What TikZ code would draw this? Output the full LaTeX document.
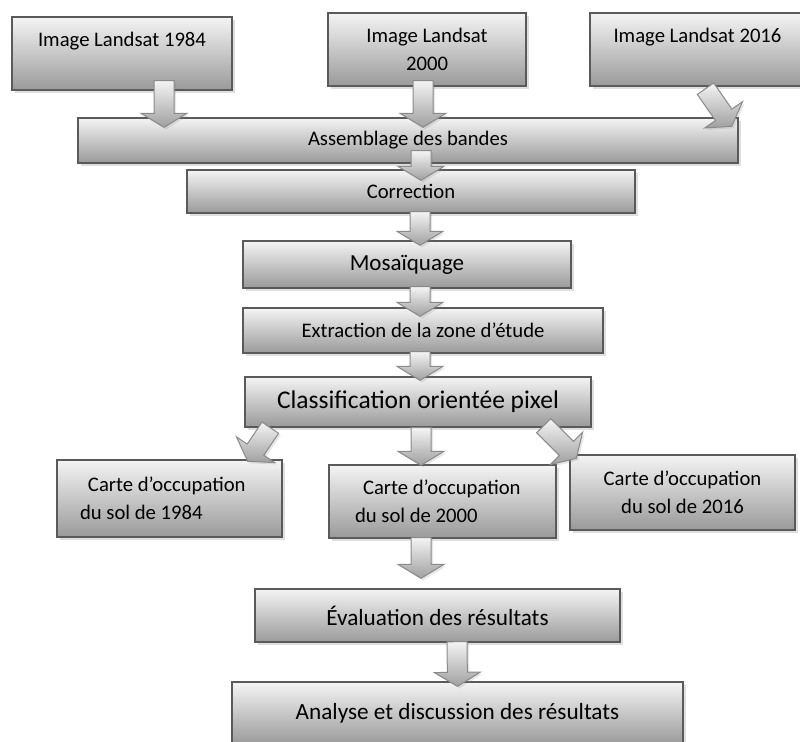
\documentclass[tikz,border=0pt]{standalone}
\usepackage{fontspec}
\setmainfont{Carlito}
\usetikzlibrary{calc,shadows}

\definecolor{boxtop}{HTML}{F4F4F4}
\definecolor{boxbot}{HTML}{9A9A9A}
\definecolor{boxline}{HTML}{5A5A5A}
\definecolor{arrtop}{HTML}{F4F4F4}
\definecolor{arrbot}{HTML}{A0A0A0}
\definecolor{arrline}{HTML}{8A8A8A}

\tikzset{
  stepbox/.style={draw=boxline, line width=0.7pt, top color=boxtop, bottom color=boxbot,
    inner sep=0pt, align=center, font=\fontsize{10.35}{14}\selectfont,
    drop shadow={shadow xshift=1.6pt, shadow yshift=-1.6pt, opacity=0.25}},
  bigarrow/.style={draw=arrline, line width=0.5pt, top color=arrtop, bottom color=arrbot,
    drop shadow={shadow xshift=1pt, shadow yshift=-1pt, opacity=0.2}}
}

% block arrow from #1 to #2
\newcommand{\flowarrow}[2]{%
  \path (#1) coordinate (fa-s) (#2) coordinate (fa-t);
  \path ($(fa-t)!7pt!(fa-s)$) coordinate (fa-h);
  \shadedraw[bigarrow] ($(fa-s)!5pt!90:(fa-t)$) -- ($(fa-h)!5pt!-90:(fa-s)$)
    -- ($(fa-h)!11.5pt!-90:(fa-s)$) -- (fa-t) -- ($(fa-h)!11.5pt!90:(fa-s)$)
    -- ($(fa-h)!5pt!90:(fa-s)$) -- ($(fa-s)!5pt!-90:(fa-t)$) -- cycle;
}

\begin{document}
\begin{tikzpicture}[x=0.5pt,y=-0.5pt]
\useasboundingbox (0,0) rectangle (800,741);

% images
\node [stepbox, minimum width=110pt, minimum height=36.5pt] (b1) at (122,53.5) {Image Landsat 1984\\\mbox{}};
\node [stepbox, minimum width=99pt, minimum height=36.5pt] (b2) at (427,49.5) {Image Landsat\\2000};
\node [stepbox, minimum width=107.5pt, minimum height=36.5pt] (b3) at (697.5,49.5) {Image Landsat 2016\\\mbox{}};

% chain
\node [stepbox, minimum width=330pt, minimum height=22.5pt] (asm) at (408,140.5) {Assemblage des bandes};
\node [stepbox, minimum width=224pt, minimum height=21.5pt] (cor) at (411,191.5) {Correction};
\node [stepbox, minimum width=164pt, minimum height=23.5pt, font=\fontsize{11.5}{14}\selectfont] (mos) at (407,264.5) {Mosaïquage};
\node [stepbox, minimum width=180pt, minimum height=22.5pt] (ext) at (423,330.5) {Extraction de la zone d’étude};
\node [stepbox, minimum width=173pt, minimum height=25pt, font=\fontsize{12.75}{15}\selectfont] (cls) at (418,402) {Classification orientée pixel};

% maps
\node [stepbox, minimum height=38.5pt, align=flush left, text width=89.5pt, inner xsep=11.5pt] (c84) at (169.5,498.5) {\hspace*{4pt}Carte d’occupation\\du sol de 1984};
\node [stepbox, minimum height=36.5pt, align=flush left, text width=87.5pt, inner xsep=13pt] (c00) at (442.5,501.5) {\hspace*{4pt}Carte d’occupation\\du sol de 2000};
\node [stepbox, minimum width=112.5pt, minimum height=37.5pt] (c16) at (682.5,492.5) {Carte d’occupation\\du sol de 2016};

\node [stepbox, minimum width=182.5pt, minimum height=26.5pt, font=\fontsize{11.6}{14}\selectfont] (eva) at (437.5,615.5) {Évaluation des résultats};
\node [stepbox, minimum width=225.5pt, minimum height=31pt, font=\fontsize{11.6}{14}\selectfont] (ana) at (457.5,713) {Analyse et discussion des résultats};

% arrows
\flowarrow{$(b1.south)+(42,-10)$}{$(b1.south |- asm.north)+(42,10)$}
\flowarrow{$(b2.south)+(-4,-6)$}{$(b2.south |- asm.north)+(-4,10)$}
\flowarrow{$(b3.south)+(8,2)$}{$(asm.north east)+(-7,9)$}
\flowarrow{$(asm.south)+(13,-13)$}{$(cor.north)+(10,11)$}
\flowarrow{$(cor.south)+(9,-2)$}{$(mos.north)+(13,5)$}
\flowarrow{$(mos.south)+(13,-2)$}{$(ext.north)+(-3,9)$}
\flowarrow{$(ext.south)+(-3,-2)$}{$(cls.north)+(2,4)$}
\flowarrow{$(cls.south west)+(26,0)$}{$(c84.north east)+(-35,2)$}
\flowarrow{$(cls.south)+(3,0)$}{$(c00.north)+(-21.5,1)$}
\flowarrow{$(cls.south east)+(-48,-2)$}{$(c16.north west)+(7,4)$}
\flowarrow{$(c00.south)+(-21.5,-1)$}{$(eva.north)+(-16.5,-10)$}
\flowarrow{$(eva.south)+(19.5,-1)$}{$(ana.north)+(0,5)$}
\end{tikzpicture}
\end{document}
